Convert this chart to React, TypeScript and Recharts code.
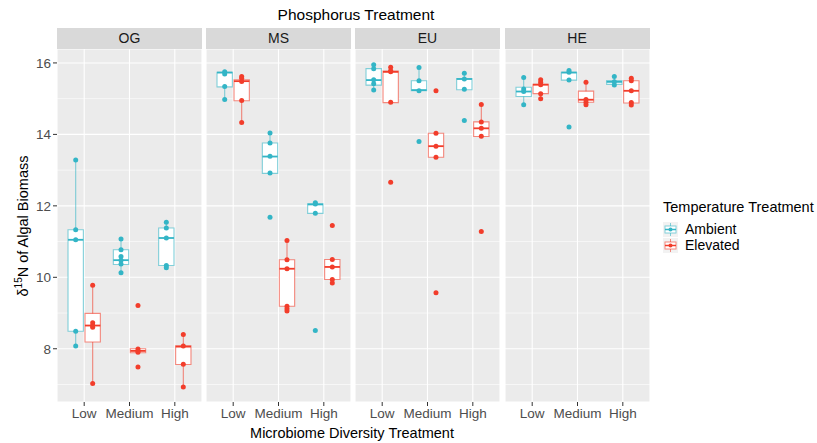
import React from "react";
import {
  ComposedChart,
  XAxis,
  YAxis,
  CartesianGrid,
  ReferenceArea,
  ReferenceLine,
  Scatter,
} from "recharts";

// facets, categories and groups
const facets = ["OG", "MS", "EU", "HE"];
const levels = ["Low", "Medium", "High"];
const groups = ["Ambient", "Elevated"];

// box stats per facet: [level, group, lo, q1, med, q3, hi]
const ogBoxes: [number, number, number, number, number, number, number][] = [
  [0, 0, 8.08, 8.49, 11.05, 11.33, 13.28],
  [0, 1, 7.03, 8.19, 8.65, 8.99, 9.78],
  [1, 0, 10.13, 10.36, 10.48, 10.77, 11.07],
  [1, 1, 7.89, 7.89, 7.94, 8.0, 8.0],
  [2, 0, 10.27, 10.33, 11.1, 11.38, 11.54],
  [2, 1, 6.93, 7.56, 8.06, 8.08, 8.4],
];
const msBoxes: [number, number, number, number, number, number, number][] = [
  [0, 0, 14.98, 15.33, 15.73, 15.74, 15.75],
  [0, 1, 14.33, 14.94, 15.49, 15.53, 15.62],
  [1, 0, 12.91, 12.91, 13.38, 13.76, 14.04],
  [1, 1, 9.06, 9.19, 10.24, 10.49, 11.03],
  [2, 0, 11.79, 11.79, 12.04, 12.06, 12.09],
  [2, 1, 9.84, 9.94, 10.29, 10.5, 10.5],
];
const euBoxes: [number, number, number, number, number, number, number][] = [
  [0, 0, 15.24, 15.38, 15.52, 15.84, 15.95],
  [0, 1, 14.89, 14.89, 15.75, 15.77, 15.88],
  [1, 0, 15.22, 15.22, 15.24, 15.5, 15.87],
  [1, 1, 13.36, 13.36, 13.67, 14.03, 14.03],
  [2, 0, 15.25, 15.25, 15.55, 15.56, 15.71],
  [2, 1, 13.94, 13.94, 14.17, 14.35, 14.84],
];
const heBoxes: [number, number, number, number, number, number, number][] = [
  [0, 0, 14.83, 15.06, 15.2, 15.32, 15.59],
  [0, 1, 15.0, 15.14, 15.39, 15.4, 15.53],
  [1, 0, 15.52, 15.52, 15.73, 15.74, 15.79],
  [1, 1, 14.83, 14.9, 14.97, 15.21, 15.46],
  [2, 0, 15.38, 15.4, 15.47, 15.51, 15.62],
  [2, 1, 14.82, 14.88, 15.22, 15.5, 15.57],
];

// observed points per facet, same order as the boxes
const ogPoints: number[][] = [
  [13.28, 11.33, 11.05, 8.49, 8.08],
  [9.78, 8.73, 8.65, 8.6, 7.03],
  [11.07, 10.77, 10.58, 10.48, 10.37, 10.13],
  [9.21, 7.99, 7.94, 7.9, 7.49],
  [11.54, 11.38, 11.1, 10.33, 10.27],
  [8.4, 8.08, 7.57, 6.93],
];
const msPoints: number[][] = [
  [15.75, 15.69, 15.34, 14.98],
  [15.62, 15.57, 15.48, 14.95, 14.33],
  [14.04, 13.76, 13.39, 12.92, 11.68],
  [11.03, 10.49, 10.24, 9.19, 9.12, 9.06],
  [12.09, 12.05, 11.79, 8.51],
  [11.45, 10.5, 10.29, 9.94, 9.84],
];
const euPoints: number[][] = [
  [15.95, 15.84, 15.53, 15.42, 15.24],
  [15.88, 15.78, 15.75, 14.9, 12.66],
  [15.87, 15.5, 15.22, 13.8],
  [15.22, 14.03, 13.67, 13.36, 9.57],
  [15.71, 15.55, 15.26, 14.39],
  [14.84, 14.35, 14.17, 13.95, 11.28],
];
const hePoints: number[][] = [
  [15.59, 15.27, 15.2, 14.83],
  [15.53, 15.46, 15.39, 15.14, 15.0],
  [15.79, 15.74, 15.52, 14.21],
  [15.46, 14.98, 14.9, 14.83],
  [15.62, 15.47, 15.38],
  [15.57, 15.5, 15.22, 14.89, 14.82],
];

const yTicks = [8, 10, 12, 14, 16];
const yMinor = [7, 9, 11, 13, 15];

const allBoxes = [ogBoxes, msBoxes, euBoxes, heBoxes];
const allPoints = [ogPoints, msPoints, euPoints, hePoints];

const COLORS = ["#33B5C6", "#F23D2B"];
const FONT = "'Liberation Sans', Arial, sans-serif";
const PANEL_LEFT = [57, 206, 355, 504.5];
const PANEL_W = 145;
const PANEL_TOP = 49;
const PANEL_H = 353;
const Y_DOMAIN: [number, number] = [6.51, 16.39];
const DODGE = 0.1875;
const HALF = 0.169;

const Facet = ({ idx }: { idx: number }) => {
  const first = idx === 0;
  const boxes = allBoxes[idx];
  const pts = allPoints[idx];
  const yW = first ? 57 : 0;

  const pointData = groups.map((_, g) => {
    const out: { x: number; y: number }[] = [];
    boxes.forEach((b, i) => {
      if (b[1] !== g) return;
      const cx = b[0] + 1 + (g === 0 ? -DODGE : DODGE);
      pts[i].forEach((v) => out.push({ x: cx, y: v }));
    });
    return out;
  });

  return (
    <div
      style={{
        position: "absolute",
        left: PANEL_LEFT[idx] - yW,
        top: PANEL_TOP,
      }}
    >
      <ComposedChart
        width={PANEL_W + yW}
        height={PANEL_H + 30}
        margin={{ top: 0, right: 0, bottom: 0, left: 0 }}
      >
        <XAxis
          type="number"
          dataKey="x"
          domain={[0.4, 3.6]}
          allowDataOverflow
          ticks={[1, 2, 3]}
          interval={0}
          tickFormatter={(v: number) => levels[Math.round(v) - 1]}
          height={30}
          axisLine={false}
          tickSize={4}
          tickLine={{ stroke: "#333333" }}
          tick={{ fill: "#4D4D4D", fontSize: 13.5, fontFamily: FONT }}
        />
        <YAxis
          type="number"
          dataKey="y"
          domain={Y_DOMAIN}
          allowDataOverflow
          ticks={yTicks}
          interval={0}
          hide={!first}
          width={yW || 1}
          axisLine={false}
          tickSize={4}
          tickLine={{ stroke: "#333333" }}
          tick={{ fill: "#4D4D4D", fontSize: 13.5, fontFamily: FONT }}
        />
        <CartesianGrid
          fill="#EBEBEB"
          stroke="#FFFFFF"
          strokeWidth={0.6}
          vertical={false}
          horizontalValues={yMinor}
        />
        <CartesianGrid stroke="#FFFFFF" strokeWidth={1.1} />
        {boxes.map((b, i) => {
          const [lv, g, lo, q1, med, q3, hi] = b;
          const cx = lv + 1 + (g === 0 ? -DODGE : DODGE);
          const c = COLORS[g];
          return (
            <React.Fragment key={i}>
              {hi > q3 && (
                <ReferenceLine
                  segment={[
                    { x: cx, y: q3 },
                    { x: cx, y: hi },
                  ]}
                  stroke={c}
                  strokeOpacity={0.6}
                  strokeWidth={1.1}
                />
              )}
              {lo < q1 && (
                <ReferenceLine
                  segment={[
                    { x: cx, y: lo },
                    { x: cx, y: q1 },
                  ]}
                  stroke={c}
                  strokeOpacity={0.6}
                  strokeWidth={1.1}
                />
              )}
              <ReferenceArea
                x1={cx - HALF}
                x2={cx + HALF}
                y1={q1}
                y2={q3}
                fill="#FFFFFF"
                fillOpacity={1}
                stroke={c}
                strokeOpacity={0.6}
                strokeWidth={1.1}
              />
              <ReferenceLine
                segment={[
                  { x: cx - HALF, y: med },
                  { x: cx + HALF, y: med },
                ]}
                stroke={c}
                strokeWidth={1.8}
              />
            </React.Fragment>
          );
        })}
        {groups.map((gName, g) => (
          <Scatter
            key={gName}
            name={gName}
            data={pointData[g]}
            dataKey="y"
            isAnimationActive={false}
            shape={(p: any) => (
              <circle cx={p.cx} cy={p.cy} r={2.5} fill={COLORS[g]} />
            )}
          />
        ))}
      </ComposedChart>
    </div>
  );
};

const LegendKey = ({ color }: { color: string }) => (
  <svg width={15} height={15} style={{ display: "block" }}>
    <rect x={0} y={0} width={15} height={15} fill="#F2F2F2" />
    <line x1={7.5} y1={1} x2={7.5} y2={14} stroke={color} strokeOpacity={0.6} />
    <rect
      x={2}
      y={4}
      width={11}
      height={7}
      fill="#FFFFFF"
      stroke={color}
      strokeOpacity={0.6}
    />
    <line x1={2} y1={7.5} x2={13} y2={7.5} stroke={color} strokeWidth={1.5} />
    <circle cx={7.5} cy={7.5} r={2} fill={color} />
  </svg>
);

export default function App() {
  return (
    <div
      style={{
        position: "absolute",
        left: 0,
        top: 0,
        width: 817,
        height: 443,
        background: "#FFFFFF",
        fontFamily: FONT,
        overflow: "hidden",
      }}
    >
      <div
        style={{
          position: "absolute",
          left: 206,
          width: 300,
          top: 4,
          textAlign: "center",
          fontSize: 15.5,
          color: "#000000",
          lineHeight: "22px",
        }}
      >
        Phosphorus Treatment
      </div>
      {facets.map((f, i) => (
        <div
          key={f}
          style={{
            position: "absolute",
            left: PANEL_LEFT[i],
            top: 28,
            width: PANEL_W,
            height: 21,
            background: "#D9D9D9",
            color: "#1A1A1A",
            fontSize: 14,
            lineHeight: "21px",
            textAlign: "center",
          }}
        >
          {f}
        </div>
      ))}
      {facets.map((f, i) => (
        <Facet key={f} idx={i} />
      ))}
      <svg
        width={40}
        height={443}
        style={{ position: "absolute", left: 0, top: 0 }}
      >
        <text
          transform="translate(28,226) rotate(-90)"
          textAnchor="middle"
          fontSize={14.5}
          fontFamily={FONT}
          fill="#000000"
        >
          δ
          <tspan fontSize={10} dy={-6}>
            15
          </tspan>
          <tspan dy={6}>N of Algal Biomass</tspan>
        </text>
      </svg>
      <div
        style={{
          position: "absolute",
          left: 202,
          width: 300,
          top: 424,
          textAlign: "center",
          fontSize: 14.5,
          color: "#000000",
          lineHeight: "18px",
        }}
      >
        Microbiome Diversity Treatment
      </div>
      <div style={{ position: "absolute", left: 663, top: 198, color: "#000000" }}>
        <div style={{ fontSize: 14.5, lineHeight: "18px", whiteSpace: "nowrap" }}>
          Temperature Treatment
        </div>
        {groups.map((g, i) => (
          <div
            key={g}
            style={{
              display: "flex",
              alignItems: "center",
              height: 16,
              marginTop: i === 0 ? 5 : 0,
            }}
          >
            <LegendKey color={COLORS[i]} />
            <span
              style={{
                marginLeft: 7,
                fontSize: 14,
                lineHeight: "16px",
              }}
            >
              {g}
            </span>
          </div>
        ))}
      </div>
    </div>
  );
}
